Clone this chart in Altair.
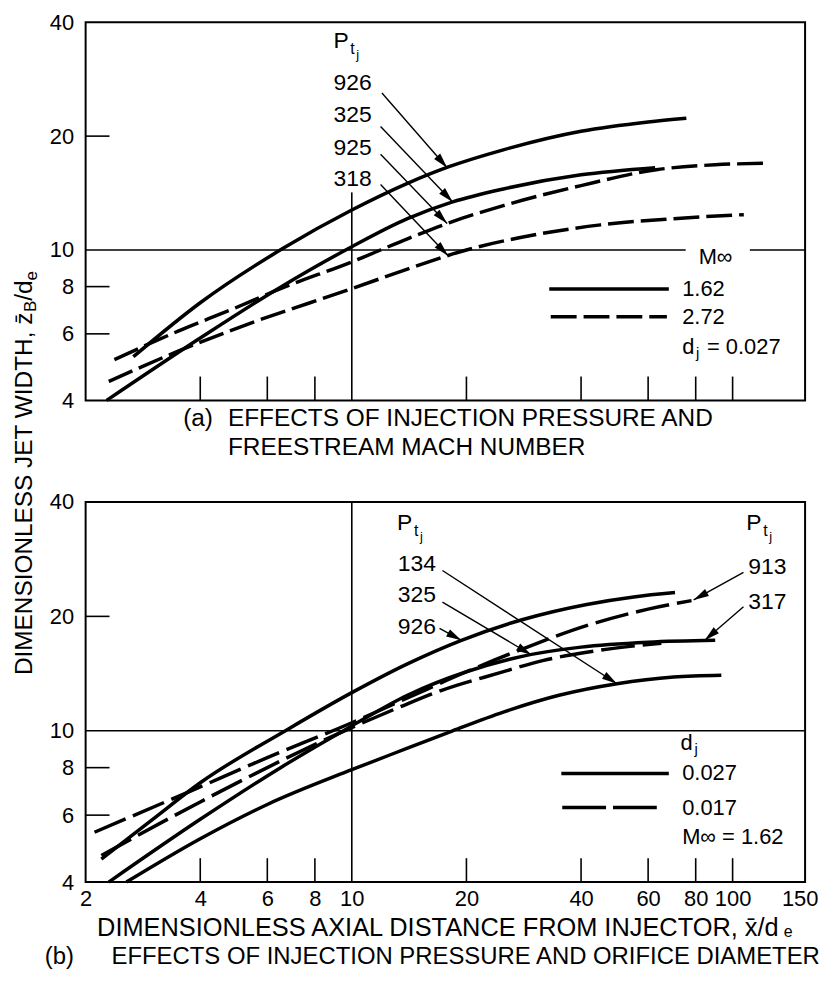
import math
import altair as alt
import pandas as pd

FONT = "Liberation Sans"

# ---------------------------------------------------------------- axes
X_DOMAIN = [2, 155]
Y_DOMAIN = [4, 40]
X_LABELS = [2, 4, 6, 8, 10, 20, 40, 60, 80, 100, 150]
Y_LABELS = [4, 6, 8, 10, 20, 40]
X_INNER_TICKS = [4, 6, 8, 20, 40, 60, 80, 100]
Y_INNER_TICKS = [6, 8, 20]

# ---------------------------------------------------------------- panel (a)  dj = 0.027
# M_inf = 1.62 (solid)
a_926_x = [2.67, 4.0, 6.6, 10, 14, 18, 25, 40, 60, 75.6]
a_926_y = [5.22, 7.25, 10.1, 12.75, 15.0, 16.6, 18.4, 20.6, 21.8, 22.3]
a_325_x = [2.27, 4.0, 6.4, 10, 14, 18.4, 25, 40, 62.6]
a_325_y = [4.0, 5.85, 7.9, 10.2, 12.1, 13.4, 14.5, 15.8, 16.5]
# M_inf = 2.72 (dashed)
a_925_x = [2.38, 3.5, 4.9, 6.5, 10, 14, 18, 25, 40, 63, 90, 122]
a_925_y = [5.13, 6.1, 7.0, 7.9, 9.3, 10.7, 11.8, 13.1, 14.8, 16.3, 16.8, 16.95]
a_318_x = [2.30, 3.5, 5.3, 10, 14, 20, 30, 45, 70, 107]
a_318_y = [4.49, 5.4, 6.35, 7.9, 8.9, 10.0, 10.95, 11.65, 12.1, 12.4]

# ---------------------------------------------------------------- panel (b)  M_inf = 1.62
# dj = 0.027 (solid)
b_134_x = [2.56, 4.0, 6, 10, 14, 18.4, 25, 35, 49.7, 70, 93.4]
b_134_y = [4.0, 5.2, 6.4, 7.9, 9.0, 10.0, 11.2, 12.4, 13.3, 13.85, 14.0]
b_325_x = [2.30, 4.0, 6.5, 10, 14, 20, 28, 40, 60, 90]
b_325_y = [4.0, 5.85, 8.0, 10.3, 12.4, 14.3, 15.7, 16.6, 17.1, 17.3]
b_926_x = [2.2, 3.0, 4.0, 6.8, 10, 14, 19.4, 28, 41.4, 55, 70.6]
b_926_y = [4.6, 5.85, 7.3, 10.1, 12.6, 15.0, 17.3, 19.6, 21.5, 22.5, 23.1]
# dj = 0.017 (dashed)
b_913_x = [2.11, 3.72, 6, 10, 14, 20, 28, 42, 60, 78]
b_913_y = [5.41, 6.9, 8.5, 10.5, 12.2, 14.3, 16.4, 19.0, 20.9, 22.0]
b_317_x = [2.2, 4.0, 10, 13.4, 17.3, 24.4, 31.7, 41.4, 54.6, 65]
b_317_y = [4.7, 6.5, 10.2, 11.56, 12.8, 14.2, 15.3, 16.1, 16.7, 17.0]

# ---------------------------------------------------------------- annotations (data units)
A_PT_HEAD = [(8.95, 35.6)]
A_PT_LABELS = [("926", 8.95, 27.6), ("325", 8.95, 22.8), ("925", 8.95, 18.6), ("318", 8.95, 15.4)]
A_ARROWS = [((12.0, 26.0), (17.8, 16.5)), ((11.9, 21.2), (18.4, 13.4)),
            ((11.9, 17.9), (17.8, 11.75)), ((11.9, 14.9), (17.9, 9.65))]
A_HLINES = [(2, 75.3, 10), (111, 155, 10)]
A_VLINES = [(10, 4, 14.2)]
A_LEG_TITLE = ("M\u221e", 90.2, 9.6)
A_LEG_SOLID = (33.0, 68.0, 7.88, "1.62")
A_LEG_DASH = (33.3, 67.2, 6.66, "2.72")
A_LEG_NOTE = (73.7, 5.55, "0.027")

B_PT_HEAD = [(13.15, 35.2), (108.6, 35.2)]
B_PT_LABELS = [("134", 13.2, 27.5), ("325", 13.2, 22.7), ("926", 13.2, 18.7),
               ("913", 110, 26.9), ("317", 110, 21.8)]
B_ARROWS = [((17.3, 26.4), (49.7, 13.3)), ((17.3, 21.8), (29.6, 15.85)),
            ((17.0, 18.6), (19.4, 17.3)), ((106.8, 26.1), (79, 22.1)),
            ((106.8, 21.2), (84.5, 17.3))]
B_HLINES = [(2, 155, 10)]
B_VLINES = [(10, 4, 40)]
B_LEG_TITLE = (73.0, 9.3)
B_LEG_SOLID = (35.5, 68.0, 7.72, "0.027")
B_LEG_DASH = (35.7, 65.9, 6.28, "0.017")
B_LEG_NOTE = ("M\u221e = 1.62", 73.7, 5.24)

# ---------------------------------------------------------------- layout / style
W = 723
HA = 380
HB = 382
SPACING = 102
LW = 3.5
DASH_A = [26, 7]
DASH_B = [34, 8]
LEG_DASH_A = [26, 7]
LEG_DASH_B = [44, 7]
F_LAB = 23
F_TICK = 22
F_TITLE = 24.5
F_XTITLE = 25.5
F_SUB = 17
ARROW_PATH = "M0,0L0.5,1.9L-0.5,1.9Z"
DUMMY = pd.DataFrame({"k": [0]})

AW = {'A': 667, 'B': 667, 'C': 722, 'D': 722, 'E': 667, 'F': 611, 'H': 722, 'I': 278,
      'J': 500, 'L': 556, 'M': 833, 'N': 722, 'O': 778, 'P': 667, 'R': 722, 'S': 667,
      'T': 611, 'U': 722, 'W': 944, 'X': 667, ' ': 278, ',': 278, '/': 278, '(': 333,
      ')': 333, 'a': 556, 'b': 556, 'd': 556, 'e': 556, 'x': 500, 'z': 500, '\u0304': 0}


def tw(s, f):
    return sum(AW.get(c, 556) for c in s) * f / 1000.0


XS = alt.Scale(type="log", domain=X_DOMAIN, nice=False)
YS = alt.Scale(type="log", domain=Y_DOMAIN, nice=False)
X_AXIS = alt.Axis(values=X_LABELS, format="d", ticks=False, tickSize=0, domain=False,
                  grid=False, labelPadding=7, labelFontSize=F_TICK, labelFont=FONT,
                  labelColor="black", labelFlush=False, labelOverlap=False, labelAngle=0,
                  title=None)
Y_AXIS = alt.Axis(values=Y_LABELS, format="d", ticks=False, tickSize=0, domain=False,
                  grid=False, labelPadding=12, labelFontSize=F_TICK, labelFont=FONT,
                  labelColor="black", labelOverlap=False, title=None)


def ptext(s, x, y, size, angle=0, align="left", baseline="middle"):
    return alt.Chart(DUMMY).mark_text(text=s, font=FONT, fontSize=size, angle=angle,
                                      align=align, baseline=baseline, color="black").encode(
        x=alt.value(x), y=alt.value(y))


def build_panel(H, solid, dashed, dash, leg_dash_pattern, hlines, vlines, pt_heads,
                pt_labels, arrows, leg_solid, leg_dash, x_axis):
    def xe(f):
        return alt.X(f, type="quantitative", scale=XS, axis=x_axis)

    def ye(f):
        return alt.Y(f, type="quantitative", scale=YS, axis=Y_AXIS)

    layers = []

    def curve_df(series):
        rows = []
        for name, xs, ys in series:
            for i, (x, y) in enumerate(zip(xs, ys)):
                rows.append({"series": name, "x": x, "y": y, "i": i})
        return pd.DataFrame(rows)

    # reference rules
    hl = pd.DataFrame(hlines, columns=["x", "x2", "y"])
    layers.append(alt.Chart(hl).mark_rule(color="black", strokeWidth=1.6).encode(
        x=xe("x"), x2=alt.X2("x2"), y=ye("y")))
    vl = pd.DataFrame(vlines, columns=["x", "y", "y2"])
    layers.append(alt.Chart(vl).mark_rule(color="black", strokeWidth=1.6).encode(
        x=xe("x"), y=ye("y"), y2=alt.Y2("y2")))
    # inner ticks
    layers.append(alt.Chart(pd.DataFrame({"v": X_INNER_TICKS})).mark_rule(
        color="black", strokeWidth=1.6).encode(x=xe("v"), y=alt.value(H), y2=alt.value(H - 24)))
    layers.append(alt.Chart(pd.DataFrame({"v": Y_INNER_TICKS})).mark_rule(
        color="black", strokeWidth=1.6).encode(y=ye("v"), x=alt.value(0), x2=alt.value(24)))

    # curves
    layers.append(alt.Chart(curve_df(solid)).mark_line(
        color="black", strokeWidth=LW, interpolate="monotone").encode(
        x=xe("x"), y=ye("y"), detail="series:N", order="i:Q"))
    layers.append(alt.Chart(curve_df(dashed)).mark_line(
        color="black", strokeWidth=LW, interpolate="monotone", strokeDash=dash).encode(
        x=xe("x"), y=ye("y"), detail="series:N", order="i:Q"))

    # arrows
    kx = math.log10(X_DOMAIN[1] / X_DOMAIN[0])
    ky = math.log10(Y_DOMAIN[1] / Y_DOMAIN[0])
    lines, heads = [], []
    for (x1, y1), (x2, y2) in arrows:
        dx = W * math.log10(x2 / x1) / kx
        dy = -H * math.log10(y2 / y1) / ky
        ang = math.degrees(math.atan2(dx, -dy)) % 360
        lines.append({"x": x1, "y": y1, "x2": x2, "y2": y2})
        heads.append({"x": x2, "y": y2, "ang": ang})
    layers.append(alt.Chart(pd.DataFrame(lines)).mark_rule(color="black", strokeWidth=1.4).encode(
        x=xe("x"), y=ye("y"), x2=alt.X2("x2"), y2=alt.Y2("y2")))
    layers.append(alt.Chart(pd.DataFrame(heads)).mark_point(
        shape=ARROW_PATH, filled=True, size=260, color="black", opacity=1).encode(
        x=xe("x"), y=ye("y"), angle=alt.Angle("ang:Q", scale=None)))

    # P_tj headings
    ph = pd.DataFrame(pt_heads, columns=["x", "y"])
    for t, fs, dx, dy in [("P", F_LAB, 0, 0), ("t", 16, 17, 8), ("j", 13, 23, 14)]:
        layers.append(alt.Chart(ph).mark_text(text=t, font=FONT, fontSize=fs, align="left",
                                              baseline="middle", dx=dx, dy=dy, color="black").encode(
            x=xe("x"), y=ye("y")))
    pl = pd.DataFrame(pt_labels, columns=["t", "x", "y"])
    layers.append(alt.Chart(pl).mark_text(font=FONT, fontSize=F_LAB, align="left",
                                          baseline="middle", color="black").encode(
        x=xe("x"), y=ye("y"), text="t:N"))

    # legend samples
    for (x1, x2, y, lab), d in [(leg_solid, None), (leg_dash, leg_dash_pattern)]:
        df = pd.DataFrame([{"x": x1, "x2": x2, "y": y}])
        kw = dict(color="black", strokeWidth=LW)
        if d is not None:
            kw["strokeDash"] = d
        layers.append(alt.Chart(df).mark_rule(**kw).encode(x=xe("x"), x2=alt.X2("x2"), y=ye("y")))
    lt = pd.DataFrame([{"t": leg_solid[3], "x": 73.7, "y": leg_solid[2]},
                       {"t": leg_dash[3], "x": 73.7, "y": leg_dash[2]}])
    layers.append(alt.Chart(lt).mark_text(font=FONT, fontSize=F_TICK, align="left",
                                          baseline="middle", color="black").encode(
        x=xe("x"), y=ye("y"), text="t:N"))
    return layers, xe, ye


# ---------------- panel (a)
la, xea, yea = build_panel(
    HA,
    [("926", a_926_x, a_926_y), ("325", a_325_x, a_325_y)],
    [("925", a_925_x, a_925_y), ("318", a_318_x, a_318_y)],
    DASH_A, LEG_DASH_A, A_HLINES, A_VLINES, A_PT_HEAD, A_PT_LABELS, A_ARROWS,
    A_LEG_SOLID, A_LEG_DASH, None)

mt = pd.DataFrame([{"t": A_LEG_TITLE[0], "x": A_LEG_TITLE[1], "y": A_LEG_TITLE[2]}])
la.append(alt.Chart(mt).mark_text(font=FONT, fontSize=F_TICK, align="center",
                                  baseline="middle", color="black").encode(
    x=xea("x"), y=yea("y"), text="t:N"))
dn = pd.DataFrame([{"x": A_LEG_NOTE[0], "y": A_LEG_NOTE[1]}])
for t, fs, dx, dy in [("d", F_TICK, 0, 0), ("j", 15, 14, 6), ("= " + A_LEG_NOTE[2], F_TICK, 25, 0)]:
    la.append(alt.Chart(dn).mark_text(text=t, font=FONT, fontSize=fs, align="left",
                                      baseline="middle", dx=dx, dy=dy, color="black").encode(
        x=xea("x"), y=yea("y")))

# caption (a)
la.append(ptext("(a)", 98, HA + 19, F_TITLE))
la.append(ptext("EFFECTS OF INJECTION PRESSURE AND", 143, HA + 19, F_TITLE))
la.append(ptext("FREESTREAM MACH NUMBER", 143, HA + 48, F_TITLE))

# shared y title (rotated, built from pieces so the subscripts sit low)
YT_X, YT_Y = -61, 453
yt_pieces = [("DIMENSIONLESS JET WIDTH, z\u0304", F_TITLE, 0), ("B", F_SUB, 6),
             ("/d", F_TITLE, 0), ("e", F_SUB, 7)]
total = sum(tw(s, f) for s, f, _ in yt_pieces)
pos = YT_Y + total / 2
for s, f, off in yt_pieces:
    la.append(ptext(s, YT_X + off, pos, f, angle=270))
    pos -= tw(s, f)

panel_a = alt.layer(*la).properties(width=W, height=HA)

# ---------------- panel (b)
lb, xeb, yeb = build_panel(
    HB,
    [("134", b_134_x, b_134_y), ("325", b_325_x, b_325_y), ("926", b_926_x, b_926_y)],
    [("913", b_913_x, b_913_y), ("317", b_317_x, b_317_y)],
    DASH_B, LEG_DASH_B, B_HLINES, B_VLINES, B_PT_HEAD, B_PT_LABELS, B_ARROWS,
    B_LEG_SOLID, B_LEG_DASH, X_AXIS)

dt = pd.DataFrame([{"x": B_LEG_TITLE[0], "y": B_LEG_TITLE[1]}])
for t, fs, dx, dy in [("d", F_TICK, 0, 0), ("j", 15, 14, 6)]:
    lb.append(alt.Chart(dt).mark_text(text=t, font=FONT, fontSize=fs, align="left",
                                      baseline="middle", dx=dx, dy=dy, color="black").encode(
        x=xeb("x"), y=yeb("y")))
mn = pd.DataFrame([{"t": B_LEG_NOTE[0], "x": B_LEG_NOTE[1], "y": B_LEG_NOTE[2]}])
lb.append(alt.Chart(mn).mark_text(font=FONT, fontSize=F_TICK, align="left",
                                  baseline="middle", color="black").encode(
    x=xeb("x"), y=yeb("y"), text="t:N"))

# x title with subscript
XT_X, XT_Y = 361, HB + 46
xt_pieces = [("DIMENSIONLESS AXIAL DISTANCE FROM INJECTOR, x\u0304/d", F_XTITLE, 0), ("e", 16, 4)]
total = sum(tw(s, f) for s, f, _ in xt_pieces)
pos = XT_X - total / 2
for s, f, off in xt_pieces:
    lb.append(ptext(s, pos, XT_Y + off, f))
    pos += tw(s, f)

# caption (b)
lb.append(ptext("(b)", -41, HB + 75, 24))
lb.append(ptext("EFFECTS OF INJECTION PRESSURE AND ORIFICE DIAMETER", 26, HB + 75, 24))

panel_b = alt.layer(*lb).properties(width=W, height=HB)

chart = alt.VConcatChart(
    vconcat=[panel_a, panel_b],
    spacing=SPACING,
    bounds="flush",
    padding={"left": 3, "top": 0, "right": 0, "bottom": 0},
    background="white",
).configure_view(stroke="black", strokeWidth=2).configure_concat(spacing=SPACING)

chart.save("out.html", embed_options={"renderer": "svg", "actions": False})
